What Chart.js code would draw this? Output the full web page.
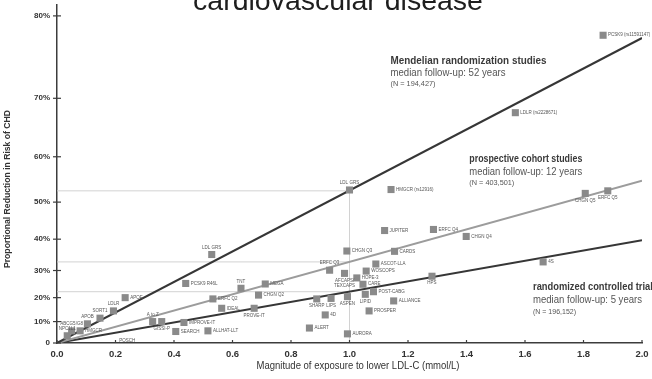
<!DOCTYPE html>
<html>
<head>
<meta charset="utf-8">
<script src="https://cdn.jsdelivr.net/npm/chart.js@4/dist/chart.umd.min.js"></script>
<style>
  html, body { margin: 0; padding: 0; background: #fff; }
  #wrap { width: 652px; height: 379px; }
</style>
</head>
<body>
<div id="wrap"><canvas id="chart" width="652" height="379"></canvas></div>
<script>
'use strict';

// x = LDL-C lowering (mmol/L), y = proportional reduction in CHD risk (%)
var mendelNames = ['NPC1L1', 'ABCG5/G8', 'HMGCR', 'APOB', 'SORT1', 'LDLR', 'APOE', 'PCSK9 R46L', 'LDL GRS', 'LDL GRS', 'HMGCR (rs12916)', 'LDLR (rs2228671)', 'PCSK9 (rs11591147)'];
var mendelX = [0.035, 0.05, 0.079, 0.104, 0.147, 0.193, 0.233, 0.44, 0.529, 1.0, 1.142, 1.567, 1.867];
var mendelY = [3.5, 5.8, 5.8, 9.0, 11.5, 14.6, 20.0, 25.4, 35.3, 52.9, 53.0, 67.8, 78.0];

var cohortNames = ['ERFC Q2', 'CHGN Q2', 'ERFC Q3', 'CHGN Q3', 'ERFC Q4', 'CHGN Q4', 'CHGN Q5', 'ERFC Q5'];
var cohortX = [0.533, 0.689, 0.932, 0.991, 1.287, 1.399, 1.806, 1.883];
var cohortY = [19.5, 21.0, 30.1, 36.4, 42.8, 40.8, 52.1, 52.7];

var trialNames = ['POSCH', 'A to Z', 'GISSI-P', 'SEARCH', 'IMPROVE-IT', 'ALLHAT-LLT', 'IDEAL', 'TNT', 'PROVE-IT', 'MEGA',
  'ALERT', 'SHARP', '4D', 'LIPS', 'AFCAPS/\nTEXCAPS', 'ASPEN', 'AURORA', 'HOPE-3', 'CARE', 'LIPID', 'WOSCOPS', 'PROSPER',
  'POST-CABG', 'ASCOT-LLA', 'JUPITER', 'ALLIANCE', 'CARDS', 'HPS', '4S'];
var trialX = [0.24, 0.327, 0.358, 0.406, 0.434, 0.516, 0.563, 0.629, 0.674, 0.712,
  0.863, 0.888, 0.917, 0.937, 0.983, 0.993, 0.993, 1.025, 1.046, 1.054, 1.057, 1.067,
  1.082, 1.09, 1.12, 1.151, 1.154, 1.282, 1.662];
var trialY = [1.0, 10.0, 10.0, 5.5, 9.6, 5.8, 15.7, 23.6, 15.7, 25.2,
  7.1, 19.5, 12.9, 19.7, 29.0, 20.4, 4.4, 27.4, 25.1, 21.3, 29.8, 14.6,
  22.3, 32.2, 42.5, 18.7, 36.3, 28.0, 32.9];

// fitted lines, read at x = 0 and x = 2
var lineX = [0, 2];
var mendelLine = [0, 77.7];
var cohortLine = [0, 55.0];
var trialLine = [0, 39.7];

// guide lines at 1 mmol/L
var refX = [0, 1];
var refLevels = [52.7, 32.9, 22.3];

var xTicks = [0, 0.2, 0.4, 0.6, 0.8, 1.0, 1.2, 1.4, 1.6, 1.8, 2.0];
var xTickLabels = ['0.0', '0.2', '0.4', '0.6', '0.8', '1.0', '1.2', '1.4', '1.6', '1.8', '2.0'];
var yTicks = [0, 10, 20, 30, 40, 50, 60, 70, 80];
var yTickLabels = ['0', '10%', '20%', '30%', '40%', '50%', '60%', '70%', '80%'];

// label placement next to squares (default: right)
var labelSide = {
  'NPC1L1': 'a', 'ABCG5/G8': 'a', 'APOB': 'a', 'SORT1': 'a', 'LDLR': 'a', 'LDL GRS': 'a',
  'ERFC Q3': 'a', 'CHGN Q5': 'b', 'ERFC Q5': 'b',
  'POSCH': 'c', 'A to Z': 'a', 'GISSI-P': 'b', 'TNT': 'a', 'PROVE-IT': 'b', 'SHARP': 'b', 'LIPS': 'b',
  'AFCAPS/\nTEXCAPS': 'b', 'ASPEN': 'b', 'LIPID': 'b', 'HPS': 'b'
};

var NARROW = '"Liberation Sans Narrow", "Liberation Sans", sans-serif';
var SANS = '"Liberation Sans", Arial, sans-serif';

// log relative-risk scale: 10%,20%... are spaced by -ln(1 - r)
function risk(p) {
    return -Math.log(1 - p / 100);
}

function pts(xs, ys) {
    return xs.map(function(x, i) { return {x: x, y: risk(ys[i])}; });
}

function squares(names, xs, ys) {
    return {
        data: pts(xs, ys),
        names: names,
        pointStyle: 'rect',
        pointRadius: function(ctx) { return names[ctx.dataIndex] === 'POSCH' ? 0 : 5; },
        backgroundColor: '#8a8a8a',
        borderWidth: 0,
        showLine: false,
        order: 0
    };
}

function line(xs, ys, color, width) {
    return {
        data: pts(xs, ys),
        showLine: true,
        borderColor: color,
        borderWidth: width,
        pointRadius: 0,
        order: 2
    };
}

var datasets = [
    squares(mendelNames, mendelX, mendelY),
    squares(cohortNames, cohortX, cohortY),
    squares(trialNames, trialX, trialY),
    line(lineX, mendelLine, '#363636', 2),
    line(lineX, cohortLine, '#9c9c9c', 2),
    line(lineX, trialLine, '#363636', 2)
];
refLevels.forEach(function(lvl) {
    var ds = line(refX, [lvl, lvl], '#d2d2d2', 1);
    ds.order = 3;
    datasets.push(ds);
});
var vref = line([refX[1], refX[1]], [0, refLevels[0]], '#d2d2d2', 1);
vref.order = 3;
datasets.push(vref);

// draws text squeezed/stretched to the width it has on the slide
function text(ctx, str, x, y, font, color, align, width) {
    ctx.font = font;
    ctx.fillStyle = color;
    ctx.textAlign = 'left';
    ctx.textBaseline = 'middle';
    var w = ctx.measureText(str).width;
    var sx = width ? width / w : 1;
    var left = align === 'center' ? x - w * sx / 2 : x;
    ctx.save();
    ctx.translate(left, y);
    ctx.scale(sx, 1);
    ctx.fillText(str, 0, 0);
    ctx.restore();
}

var decor = {
    id: 'decor',
    afterDatasetsDraw: function(chart) {
        var ctx = chart.ctx;
        ctx.save();
        ctx.font = '4.5px ' + NARROW;
        ctx.fillStyle = '#555';
        ctx.textBaseline = 'middle';
        [0, 1, 2].forEach(function(di) {
            var ds = chart.data.datasets[di];
            chart.getDatasetMeta(di).data.forEach(function(el, i) {
                var name = ds.names[i];
                var side = labelSide[name] || 'r';
                name.split('\n').forEach(function(ln, k) {
                    if (side === 'r') {
                        ctx.textAlign = 'left';
                        ctx.fillText(ln, el.x + 5, el.y + k * 5);
                    } else if (side === 'a') {
                        ctx.textAlign = 'center';
                        ctx.fillText(ln, el.x, el.y - 7 + k * 5);
                    } else if (side === 'b') {
                        ctx.textAlign = 'center';
                        ctx.fillText(ln, el.x, el.y + 7 + k * 5);
                    } else {
                        ctx.textAlign = 'center';
                        ctx.fillText(ln, el.x, el.y + k * 5);
                    }
                });
            });
        });
        ctx.restore();
    },
    afterDraw: function(chart) {
        var ctx = chart.ctx;
        var xs = chart.scales.x, ys = chart.scales.y;
        var area = chart.chartArea;
        ctx.save();

        // tick marks
        ctx.strokeStyle = '#3c3c3c';
        ctx.lineWidth = 1.2;
        ys.ticks.forEach(function(t) {
            var py = ys.getPixelForValue(t.value);
            ctx.beginPath();
            ctx.moveTo(area.left - 4, py);
            ctx.lineTo(area.left + 4, py);
            ctx.stroke();
        });
        xs.ticks.forEach(function(t) {
            var px = xs.getPixelForValue(t.value);
            ctx.beginPath();
            ctx.moveTo(px, area.bottom);
            ctx.lineTo(px, area.bottom - 3);
            ctx.stroke();
        });

        // title, cut off at the top like the slide
        ctx.font = '28.5px ' + SANS;
        ctx.fillStyle = '#1e1e1e';
        ctx.textAlign = 'center';
        ctx.textBaseline = 'alphabetic';
        ctx.fillText('cardiovascular disease', 338, 9.5);

        // axis titles
        text(ctx, 'Magnitude of exposure to lower LDL-C (mmol/L)', 358, 366, '10.5px ' + NARROW, '#333', 'center', 203);
        ctx.save();
        ctx.translate(8, 189);
        ctx.rotate(-Math.PI / 2);
        text(ctx, 'Proportional Reduction in Risk of CHD', 0, 0, 'bold 9px ' + NARROW, '#333', 'center', 158);
        ctx.restore();

        // group annotations
        text(ctx, 'Mendelian randomization studies', 390.5, 60.7, 'bold 11px ' + NARROW, '#3a3a3a', 'left', 156);
        text(ctx, 'median follow-up: 52 years', 390.5, 72.7, '10.5px ' + NARROW, '#555', 'left', 115);
        text(ctx, '(N = 194,427)', 390.5, 84.3, '7.5px ' + NARROW, '#555', 'left', 45);

        text(ctx, 'prospective cohort studies', 469.3, 159.3, 'bold 10.5px ' + NARROW, '#3a3a3a', 'left', 113);
        text(ctx, 'median follow-up: 12 years', 469.3, 172.3, '11px ' + NARROW, '#555', 'left', 113);
        text(ctx, '(N = 403,501)', 469.3, 183.3, '7.5px ' + NARROW, '#555', 'left', 45);

        text(ctx, 'randomized controlled trials', 533, 287.3, 'bold 11px ' + NARROW, '#3a3a3a', 'left', 125);
        text(ctx, 'median follow-up: 5 years', 533, 300, '11px ' + NARROW, '#555', 'left', 109);
        text(ctx, '(N = 196,152)', 533, 311.7, '7.5px ' + NARROW, '#555', 'left', 43);

        ctx.restore();
    }
};

new Chart(document.getElementById('chart'), {
    type: 'scatter',
    data: {datasets: datasets},
    options: {
        responsive: false,
        animation: false,
        layout: {padding: {top: 3, right: 10, left: 0, bottom: 0}},
        plugins: {
            legend: {display: false},
            tooltip: {enabled: false}
        },
        scales: {
            x: {
                type: 'linear',
                min: 0,
                max: 2,
                grid: {display: false, drawTicks: false},
                border: {display: true, color: '#3c3c3c', width: 1.5},
                afterBuildTicks: function(scale) {
                    scale.ticks = xTicks.map(function(v) { return {value: v}; });
                },
                afterFit: function(scale) {
                    scale.height = 36;
                    scale.paddingLeft = 0;
                    scale.paddingRight = 0;
                },
                ticks: {
                    autoSkip: false,
                    maxRotation: 0,
                    padding: 6,
                    color: '#333',
                    font: {family: SANS, size: 9.5, weight: 'bold'},
                    callback: function(v, i) { return xTickLabels[i]; }
                }
            },
            y: {
                type: 'linear',
                min: 0,
                max: 1.663,
                grid: {display: false, drawTicks: false},
                border: {display: true, color: '#3c3c3c', width: 1.5},
                afterBuildTicks: function(scale) {
                    scale.ticks = yTicks.map(function(p) { return {value: risk(p)}; });
                },
                afterFit: function(scale) {
                    scale.width = 57;
                    scale.paddingTop = 0;
                    scale.paddingBottom = 0;
                },
                ticks: {
                    autoSkip: false,
                    padding: 7,
                    color: '#333',
                    font: {family: SANS, size: 8, weight: 'bold'},
                    callback: function(v, i) { return yTickLabels[i]; }
                }
            }
        }
    },
    plugins: [decor]
});
</script>
</body>
</html>
